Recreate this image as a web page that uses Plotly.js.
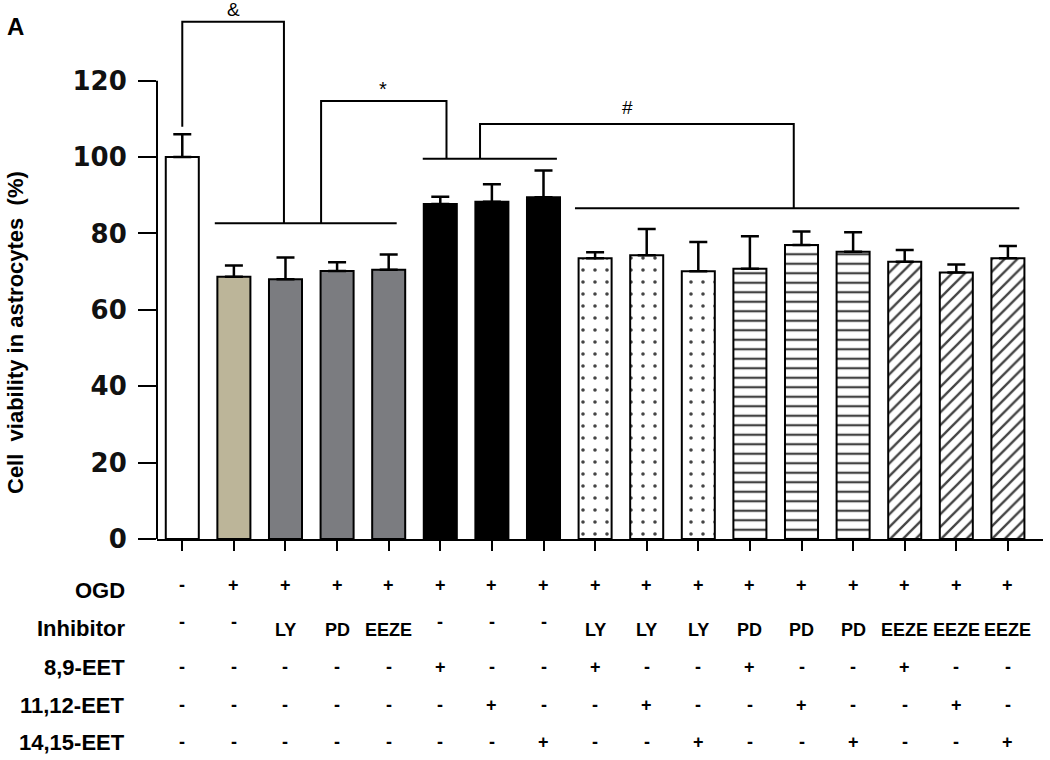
<!DOCTYPE html>
<html>
<head>
<meta charset="utf-8">
<script src="https://cdn.plot.ly/plotly-3.0.1.min.js"></script>
<style>html,body{margin:0;padding:0;background:#fff;}</style>
</head>
<body>
<div id="chart" style="width:1050px;height:760px;"></div>
<script>
// ---- data ----
const categories = [
  'Control', 'OGD', 'OGD+LY', 'OGD+PD', 'OGD+EEZE',
  'OGD+8,9-EET', 'OGD+11,12-EET', 'OGD+14,15-EET',
  'OGD+LY+8,9-EET', 'OGD+LY+11,12-EET', 'OGD+LY+14,15-EET',
  'OGD+PD+8,9-EET', 'OGD+PD+11,12-EET', 'OGD+PD+14,15-EET',
  'OGD+EEZE+8,9-EET', 'OGD+EEZE+11,12-EET', 'OGD+EEZE+14,15-EET'
];
const viability = [100, 68.7, 68.0, 70.2, 70.5, 87.7, 88.3, 89.5, 73.5, 74.3, 70.1, 70.8, 77.0, 75.2, 72.6, 69.8, 73.5];
const errorUp   = [6.0, 2.9, 5.7, 2.3, 4.0, 1.9, 4.6, 7.0, 1.6, 6.9, 7.7, 8.5, 3.5, 5.1, 3.1, 2.1, 3.2];

const rowLabels = ['OGD', 'Inhibitor', '8,9-EET', '11,12-EET', '14,15-EET'];
const ogdRow       = ['-','+','+','+','+','+','+','+','+','+','+','+','+','+','+','+','+'];
const inhibitorRow = ['-','-','LY','PD','EEZE','-','-','-','LY','LY','LY','PD','PD','PD','EEZE','EEZE','EEZE'];
const eet89Row     = ['-','-','-','-','-','+','-','-','+','-','-','+','-','-','+','-','-'];
const eet1112Row   = ['-','-','-','-','-','-','+','-','-','+','-','-','+','-','-','+','-'];
const eet1415Row   = ['-','-','-','-','-','-','-','+','-','-','+','-','-','+','-','-','+'];
const tableRows = [ogdRow, inhibitorRow, eet89Row, eet1112Row, eet1415Row];

const yTicks = [0, 20, 40, 60, 80, 100, 120];
const yTitle = 'Cell \u00a0viability in astrocytes \u00a0(%)';

// ---- styles ----
const fillColors = ['#ffffff', '#bcb599', '#7b7c80', '#7b7c80', '#7b7c80', '#000000', '#000000', '#000000',
  '#ffffff', '#ffffff', '#ffffff', '#ffffff', '#ffffff', '#ffffff', '#ffffff', '#ffffff', '#ffffff'];
const patternShapes = ['', '', '', '', '', '', '', '', '.', '.', '.', '-', '-', '-', '/', '/', '/'];
const patternSize = patternShapes.map(s => s === '.' ? 12 : (s === '-' ? 9.5 : 9));
const patternSolid = patternShapes.map(s => s === '.' ? 0.07 : (s === '-' ? 0.24 : 0.26));

// plot area geometry (pixels)
const L = 157, R = 1043, T = 12, B = 539;
const px2x = px => (px - L) / (R - L);
const py2y = py => (B - py) / (B - T);
const FONT = 'Liberation Sans, Arial, sans-serif';

const trace = {
  type: 'bar',
  x: categories,
  y: viability,
  width: 0.64,
  marker: {
    color: fillColors,
    line: {color: '#000', width: 2},
    pattern: {shape: patternShapes, fillmode: 'overlay', fgcolor: '#000', fgopacity: 1,
              size: patternSize, solidity: patternSolid}
  },
  error_y: {type: 'data', symmetric: false, array: errorUp, arrayminus: errorUp.map(() => 0),
            color: '#000', thickness: 2.5, width: 9},
  hoverinfo: 'skip'
};

const lineStyle = {color: '#000', width: 2};
const shapes = [];
// y axis line from 0 to 120
shapes.push({type: 'line', xref: 'paper', yref: 'y', x0: 0, x1: 0, y0: 0, y1: 120, line: lineStyle});

// group lines (index units, value units)
const groupLines = [
  {x0: 0.63, x1: 4.155, y: 82.66},
  {x0: 4.66, x1: 7.26, y: 99.58},
  {x0: 7.61, x1: 16.22, y: 86.59}
];
groupLines.forEach(g => shapes.push({type: 'line', xref: 'x', yref: 'y', x0: g.x0, x1: g.x1, y0: g.y, y1: g.y, line: lineStyle}));

const brackets = [
  {label: '&', x0: 0, yb0: 107.96, x1: 1.97, yb1: 82.66, top: 135.46, tx: 0.99, tpy: 9, size: 19},
  {label: '*', x0: 2.69, yb0: 82.66, x1: 5.12, yb1: 99.58, top: 114.7, tx: 3.88, tpy: 89, size: 20},
  {label: '#', x0: 5.77, yb0: 99.58, x1: 11.85, yb1: 86.59, top: 108.65, tx: 8.63, tpy: 107, size: 19}
];
const annotations = [];
brackets.forEach(b => {
  shapes.push({type: 'path', xref: 'x', yref: 'y',
    path: `M ${b.x0},${b.yb0} L ${b.x0},${b.top} L ${b.x1},${b.top} L ${b.x1},${b.yb1}`,
    line: lineStyle});
  annotations.push({xref: 'x', yref: 'paper', x: b.tx, y: py2y(b.tpy), text: b.label, showarrow: false,
    xanchor: 'center', yanchor: 'middle', font: {family: FONT, size: b.size, color: '#000'}});
});

// table below the axis
const labelY = [590, 628, 667, 705, 742];
const symbolY = [585, 630, 667, 705, 742];
rowLabels.forEach((lab, r) => {
  annotations.push({xref: 'paper', yref: 'paper', x: px2x(127), y: py2y(labelY[r]), xanchor: 'right', yanchor: 'middle',
    text: lab, showarrow: false,
    font: {family: FONT, size: 22, weight: 'bold', color: '#000'}});
  tableRows[r].forEach((sym, i) => {
    const isDash = sym === '-';
    annotations.push({xref: 'x', yref: 'paper', x: categories[i], y: py2y(symbolY[r]),
      xanchor: 'center', yanchor: 'middle',
      yshift: (r === 1 && isDash) ? 8 : 0,
      text: sym, showarrow: false,
      font: {family: FONT, size: 18, weight: 'bold', color: '#000'}});
  });
});

// y-axis title and panel letter
annotations.push({xref: 'paper', yref: 'paper', x: px2x(15), y: py2y(333), text: yTitle, textangle: -90,
  xanchor: 'center', yanchor: 'middle',
  showarrow: false, font: {family: FONT, size: 22, weight: 'bold', color: '#000'}});
annotations.push({xref: 'paper', yref: 'paper', x: px2x(15), y: py2y(26), text: 'A', showarrow: false,
  xanchor: 'center', yanchor: 'middle',
  font: {family: FONT, size: 24, weight: 'bold', color: '#000'}});

const layout = {
  width: 1050, height: 760,
  margin: {l: L, r: 1050 - R, t: T, b: 760 - B, pad: 0},
  paper_bgcolor: '#fff', plot_bgcolor: '#fff',
  showlegend: false,
  xaxis: {
    type: 'category', range: [-0.49, 16.68],
    showline: true, linecolor: '#000', linewidth: 2,
    ticks: 'outside', ticklen: 10, tickwidth: 2, tickcolor: '#000',
    showticklabels: false, showgrid: false, zeroline: false, fixedrange: true
  },
  yaxis: {
    range: [0, 138], tickvals: yTicks, ticktext: yTicks.map(String),
    showline: false, ticks: 'outside', ticklen: 18, tickwidth: 2, tickcolor: '#000',
    ticklabelstandoff: 6,
    tickfont: {family: 'DejaVu Sans, sans-serif', size: 26, weight: 'bold', color: '#111'},
    showgrid: false, zeroline: false, fixedrange: true
  },
  shapes: shapes,
  annotations: annotations
};

Plotly.newPlot('chart', [trace], layout, {displayModeBar: false, staticPlot: true});
</script>
</body>
</html>
